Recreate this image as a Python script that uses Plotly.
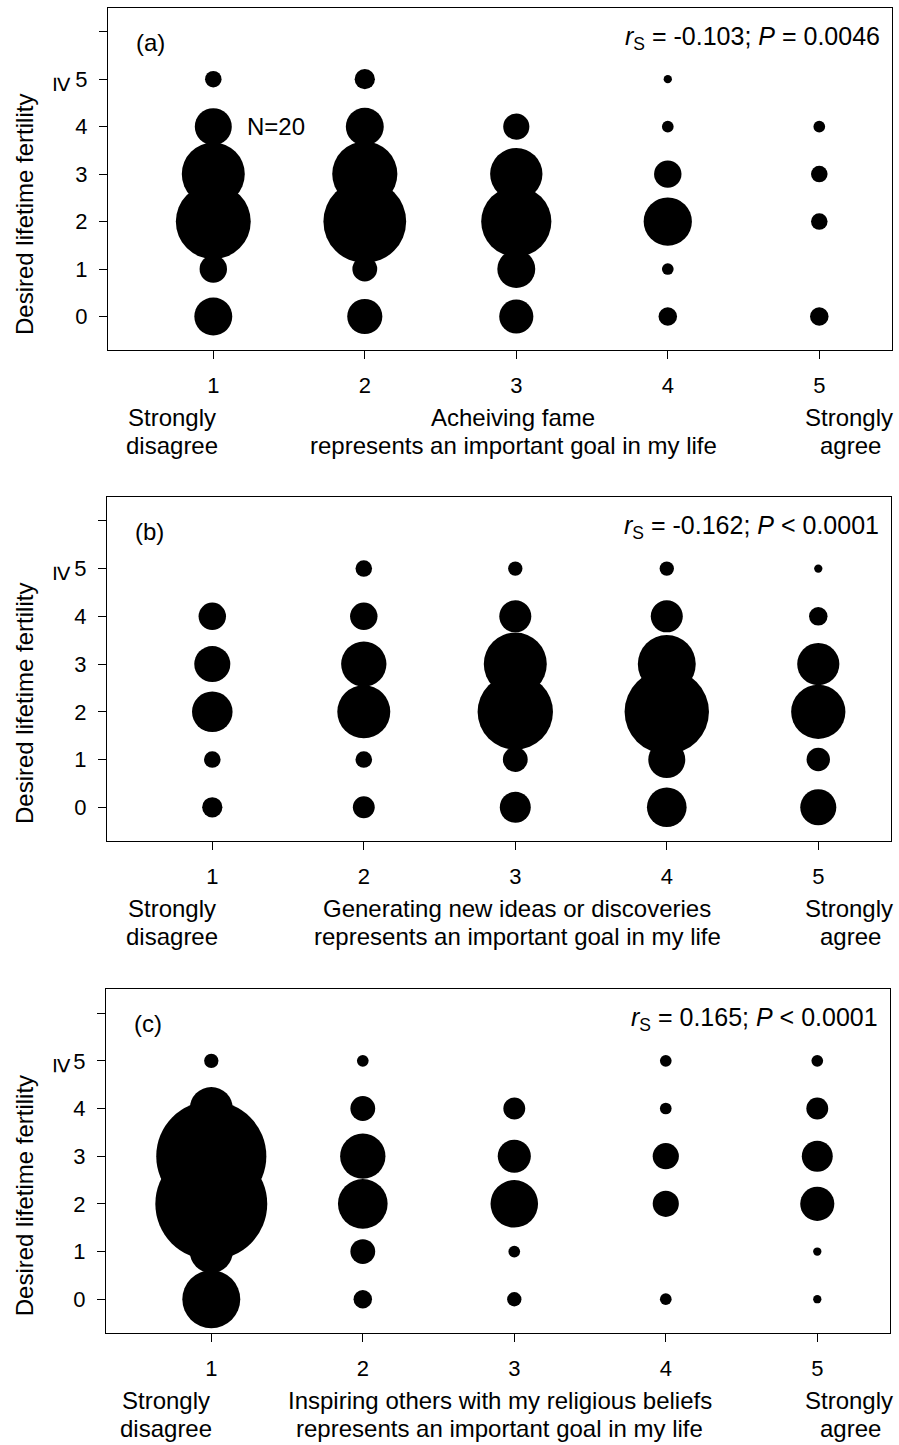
import math
import plotly.graph_objects as go

W, H = 899, 1445
FONT = "Liberation Sans, Arial, sans-serif"

# ---------------- data ----------------
agree_scores = [1, 2, 3, 4, 5]            # x categories
fertility_levels = [0, 1, 2, 3, 4, 5]     # y categories (5 means >=5)
y_tick_vals = [0, 1, 2, 3, 4, 5, 6]
y_tick_text = ["0", "1", "2", "3", "4", "5", ""]
x_tick_text = ["1", "2", "3", "4", "5"]

# counts[score-1][fertility level]
counts_a = [
    [21, 11, 82, 58, 20, 4],
    [18, 9, 100, 62, 21, 6],
    [17, 21, 72, 40, 10, 0],
    [5, 2, 34, 11, 2, 1],
    [5, 0, 4, 4, 2, 0],
]
counts_b = [
    [6, 4, 24, 19, 11, 0],
    [7, 4, 41, 30, 11, 4],
    [14, 9, 83, 58, 15, 3],
    [23, 20, 104, 49, 15, 3],
    [19, 8, 43, 26, 5, 1],
]
counts_c = [
    [49, 27, 183, 177, 27, 3],
    [5, 9, 36, 30, 9, 2],
    [3, 2, 33, 16, 7, 0],
    [2, 0, 10, 10, 2, 2],
    [1, 1, 17, 14, 7, 2],
]

panel_letters = ["(a)", "(b)", "(c)"]
stat_texts = [
    "<i>r</i><sub>S</sub> = -0.103; <i>P</i> = 0.0046",
    "<i>r</i><sub>S</sub> = -0.162; <i>P</i> < 0.0001",
    "<i>r</i><sub>S</sub> = 0.165; <i>P</i> < 0.0001",
]
goal_line1 = [
    "Acheiving fame",
    "Generating new ideas or discoveries",
    "Inspiring others with my religious beliefs",
]
goal_line2 = "represents an important goal in my life"
y_title = "Desired lifetime fertility"
ref_label = "N=20"
REF_N = 20

# ---------------- layout geometry (pixels) ----------------
D_REF = 37.0  # diameter in px of a bubble with REF_N observations
panels = [
    dict(counts=counts_a, x0=108, x1=892, y0=8, y1=349.7, sd_x=172, goal_x=513),
    dict(counts=counts_b, x0=107, x1=891, y0=497, y1=840.7, sd_x=172, goal_x=517),
    dict(counts=counts_c, x0=106, x1=890, y0=989.3, y1=1332.6, sd_x=166, goal_x=500),
]


def px(x):
    return x / W


def py(y):
    return 1 - y / H


fig = go.Figure()
annotations = []
layout_axes = {}

for i, p in enumerate(panels):
    n = "" if i == 0 else str(i + 1)
    xs, ys, sizes = [], [], []
    for si, score in enumerate(agree_scores):
        for li, lev in enumerate(fertility_levels):
            c = p["counts"][si][li]
            if c > 0:
                xs.append(score)
                ys.append(lev)
                sizes.append(D_REF * math.sqrt(c / REF_N))
    fig.add_trace(go.Scatter(
        x=xs, y=ys, mode="markers",
        marker=dict(size=sizes, sizemode="diameter", color="black",
                    line=dict(width=0), opacity=1),
        xaxis="x" + n, yaxis="y" + n, showlegend=False, hoverinfo="skip",
    ))
    layout_axes["xaxis" + n] = dict(
        domain=[px(p["x0"]), px(p["x1"])], range=[0.305, 5.48],
        anchor="y" + n, tickvals=agree_scores, ticktext=x_tick_text,
        ticks="outside", ticklen=8, tickwidth=1, tickcolor="black",
        showline=True, linecolor="black", linewidth=1, mirror=True,
        showgrid=False, zeroline=False, ticklabelstandoff=8,
        tickfont=dict(family=FONT, size=22, color="black"),
    )
    layout_axes["yaxis" + n] = dict(
        domain=[py(p["y1"]), py(p["y0"])], range=[-0.7, 6.5],
        anchor="x" + n, tickvals=y_tick_vals, ticktext=y_tick_text,
        ticks="outside", ticklen=8, tickwidth=1, tickcolor="black",
        showline=True, linecolor="black", linewidth=1, mirror=True,
        showgrid=False, zeroline=False, ticklabelstandoff=7,
        tickfont=dict(family=FONT, size=22, color="black"),
    )
    top, bot = p["y0"], p["y1"]
    f24 = dict(family=FONT, size=24, color="black")
    # panel letter
    annotations.append(dict(text=panel_letters[i], x=px(p["x0"] + 42), y=py(top + 34),
                            xref="paper", yref="paper", xanchor="center", yanchor="middle",
                            showarrow=False, font=f24))
    # statistics
    annotations.append(dict(text=stat_texts[i], x=px(p["x1"] - 10), y=py(top + 30),
                            xref="paper", yref="paper", xanchor="right", yanchor="middle",
                            showarrow=False, font=dict(family=FONT, size=25, color="black")))
    # y-axis title
    annotations.append(dict(text=y_title, x=px(24), y=py(top + 207), textangle=-90,
                            xref="paper", yref="paper", xanchor="center", yanchor="middle",
                            showarrow=False, font=f24))
    annotations.append(dict(text="\u2265", x=px(63), y=py(top + 76), textangle=90,
                            xref="paper", yref="paper", xanchor="center", yanchor="middle",
                            showarrow=False, font=dict(family=FONT, size=27, color="black")))
    # x-axis descriptive labels
    l1, l2 = bot + 68, bot + 96
    for txt, xx, yy in [("Strongly", p["sd_x"], l1), ("disagree", p["sd_x"], l2),
                        (goal_line1[i], p["goal_x"], l1), (goal_line2, p["goal_x"], l2),
                        ("Strongly", 849, l1), ("agree", 850, l2)]:
        annotations.append(dict(text=txt, x=px(xx), y=py(yy), xref="paper", yref="paper",
                                xanchor="center", yanchor="middle", showarrow=False, font=f24))

# reference size label in panel (a)
annotations.append(dict(text=ref_label, x=1, y=4, xref="x", yref="y", xshift=32,
                        xanchor="left", yanchor="middle", showarrow=False,
                        font=dict(family=FONT, size=24, color="black")))

fig.update_layout(
    width=W, height=H, autosize=False,
    margin=dict(l=0, r=0, t=0, b=0),
    paper_bgcolor="white", plot_bgcolor="white",
    annotations=annotations,
    **layout_axes,
)

fig.write_html("out.html", config={"displayModeBar": False},
               post_script="document.body.style.margin='0';")
